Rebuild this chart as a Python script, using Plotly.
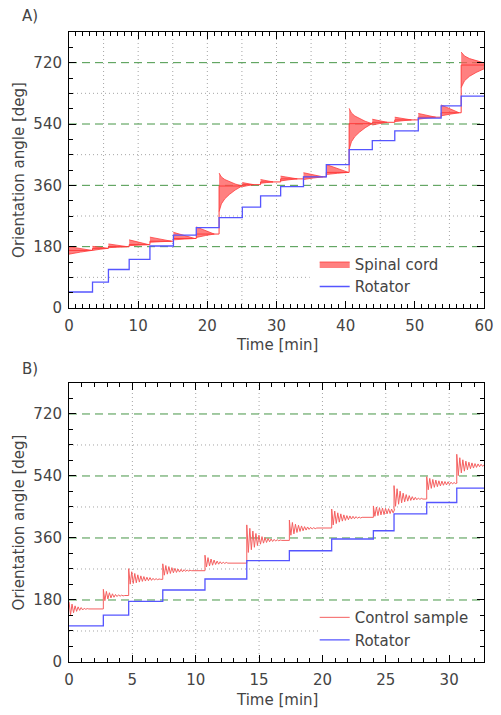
import plotly.graph_objects as go

# ---------------- Panel A data ----------------
a_rot_t = [0, 3.4, 5.7, 8.7, 11.7, 15.1, 18.4, 21.7, 25.06, 27.7, 30.6, 33.9, 37.2,
           40.5, 43.85, 47.1, 50.5, 53.8, 56.7, 60]
a_rot_v = [47, 76, 113, 143, 182, 214, 236, 265, 296, 329, 356, 385, 421,
           465, 491, 520, 557, 593, 622, 622]

a_sc_t0 = [0, 3.4, 5.7, 8.7, 11.7, 15.1, 18.4, 21.7, 25.06, 27.7, 30.6, 33.9, 37.2,
           40.5, 43.85, 47.1, 50.5, 53.8, 56.7]
a_sc_end = [3.3, 5.6, 8.4, 11.5, 14.8, 18.2, 21.0, 25.0, 26.7, 29.5, 33.0, 36.7, 40.4,
            43.8, 46.0, 49.5, 53.0, 56.4, 61.5]
a_sc_up = [180, 181, 188, 200, 208, 222, 238, 396, 368, 377, 387, 397, 421,
           586, 554, 560, 571, 596, 751]
a_sc_low = [158, 169, 177, 183, 193, 200, 207, 283, 356, 366, 373, 377, 392,
            465, 537, 547, 554, 564, 647]
a_sc_settle = [169, 175, 180, 186, 196, 204, 217, 358, 362, 370, 379, 385, 398,
               541, 545, 552, 560, 573, 713]
a_sc_kind = [0, 0, 0, 0, 0, 0, 0, 1, 0, 0, 0, 0, 0, 1, 0, 0, 0, 0, 1]

# envelope profiles (fraction of wedge length -> fraction of initial spread)
wedge_frac = [0, 0.5, 1.0]
wedge_rel = [1, 0.45, 0]
burst_frac = [0, 0.1, 0.25, 0.45, 0.7, 1.0]
burst_rel = [1, 0.7, 0.5, 0.33, 0.16, 0]

# ---------------- Panel B data ----------------
b_rot_t = [0, 2.71, 4.71, 7.40, 10.73, 14.03, 17.39, 20.73, 24.02, 25.65, 28.23, 30.6, 32.75]
b_rot_v = [105, 136, 176, 209, 241, 294, 323, 357, 381, 430, 463, 505, 505]

b_cs_t0 = [0, 2.71, 4.71, 7.40, 10.73, 14.03, 17.39, 20.73, 24.02, 25.65, 28.23, 30.6]
b_cs_extrema = [
    [175, 137, 168, 143, 163, 147, 160, 150, 158, 151, 156, 153, 155, 154],
    [211, 178, 205, 183, 201, 186, 198, 188, 196, 190, 195, 191, 194, 192, 193],
    [271, 226, 262, 228, 257, 230, 253, 232, 250, 234, 248, 235, 246, 236, 245, 237,
     243, 238, 242, 239, 241, 240],
    [285, 252, 280, 255, 277, 257, 274, 259, 272, 260, 270, 261, 269, 262, 268, 263,
     267, 264, 266, 265],
    [310, 276, 303, 279, 299, 281, 296, 283, 293, 284, 291, 285, 290, 286, 289, 287],
    [398, 318, 388, 326, 380, 333, 373, 338, 368, 342, 364, 345, 361, 347, 359, 349,
     357, 350, 356, 351, 355, 352, 354, 353],
    [412, 368, 405, 372, 400, 376, 397, 379, 395, 381, 393, 383, 392, 385, 391, 386,
     390, 387, 389],
    [444, 398, 438, 402, 433, 406, 430, 409, 427, 411, 425, 413, 424, 415, 423, 416,
     422, 417, 421, 418, 420],
    [453, 423, 450, 425, 448, 427, 447, 428, 446, 430, 445, 431, 444, 433, 443],
    [512, 452, 503, 458, 496, 462, 490, 465, 486, 467, 483, 469, 480, 470, 478, 471,
     476, 472, 475, 473],
    [538, 500, 533, 504, 530, 507, 528, 509, 526, 511, 525, 513, 524, 514, 523, 515,
     522, 517, 521, 518, 520],
    [603, 541, 593, 549, 587, 554, 583, 558, 580, 561, 578, 563, 576, 565, 575, 567,
     574, 568, 573, 569, 572],
]
b_half_period = 0.12
b_t_end = 32.75

# ---------------- styles ----------------
FONT = "DejaVu Sans"
FS = 15
TXT = "#444444"
RED_A = "rgb(255,60,60)"
RED_B = "rgb(245,95,95)"
BLUE = "rgb(85,85,255)"
GREEN = "rgb(70,150,70)"
GRID = "rgb(165,165,165)"

fig = go.Figure()

# ---- Panel A: spinal cord envelopes (dense oscillation) ----
px, py = [], []
for i in range(len(a_sc_t0)):
    t0, te = a_sc_t0[i], a_sc_end[i]
    s, up, lo = a_sc_settle[i], a_sc_up[i], a_sc_low[i]
    fr, rl = (burst_frac, burst_rel) if a_sc_kind[i] else (wedge_frac, wedge_rel)
    for f, r in zip(fr, rl):
        px.append(t0 + f * (te - t0)); py.append(s + (up - s) * r)
    for f, r in zip(fr[::-1], rl[::-1]):
        px.append(t0 + f * (te - t0)); py.append(s - (s - lo) * r)
    px.append(None); py.append(None)
fig.add_trace(go.Scatter(x=px, y=py, mode="lines", fill="toself",
                         fillcolor="rgba(255,85,85,0.75)",
                         line=dict(color=RED_A, width=0.8),
                         name="Spinal cord", legend="legend", xaxis="x", yaxis="y"))
# settled level line
fig.add_trace(go.Scatter(x=a_sc_t0 + [60], y=a_sc_settle + [a_sc_settle[-1]],
                         mode="lines", line=dict(color=RED_A, width=1, shape="hv"),
                         showlegend=False, xaxis="x", yaxis="y"))
fig.add_trace(go.Scatter(x=a_rot_t, y=a_rot_v, mode="lines",
                         line=dict(color=BLUE, width=1.3, shape="hv"),
                         name="Rotator", legend="legend", xaxis="x", yaxis="y"))

# ---- Panel B: control sample ----
bx, by = [], []
for i, t0 in enumerate(b_cs_t0):
    ext = b_cs_extrema[i]
    if i > 0:
        bx.append(t0); by.append(b_cs_extrema[i - 1][-1])
    for k, v in enumerate(ext):
        bx.append(t0 + k * b_half_period); by.append(v)
bx.append(b_t_end); by.append(b_cs_extrema[-1][-1])
fig.add_trace(go.Scatter(x=bx, y=by, mode="lines", line=dict(color=RED_B, width=1),
                         name="Control sample", legend="legend2", xaxis="x2", yaxis="y2"))
fig.add_trace(go.Scatter(x=b_rot_t, y=b_rot_v, mode="lines",
                         line=dict(color=BLUE, width=1.3, shape="hv"),
                         name="Rotator", legend="legend2", xaxis="x2", yaxis="y2"))

# ---- grid shapes (all in data coordinates of each subplot) ----
Y_MAX = 810
panels = [("x", "y", 60, range(5, 60, 5), 34.8),
          ("x2", "y2", 32.75, range(5, 33, 5), 19.85)]
shapes = []
for xr, yr, xmax, vgrid, leg_x0 in panels:
    for x in vgrid:
        shapes.append(dict(type="line", xref=xr, yref=yr, x0=x, x1=x, y0=0, y1=Y_MAX,
                           line=dict(color=GRID, width=1, dash="1px,3px"), layer="below"))
    for y in (90, 270, 450, 630):
        shapes.append(dict(type="line", xref=xr, yref=yr, x0=0, x1=xmax, y0=y, y1=y,
                           line=dict(color=GRID, width=1, dash="1px,3px"), layer="below"))
    # white patch behind the legend
    shapes.append(dict(type="rect", xref=xr, yref=yr, x0=leg_x0, x1=xmax, y0=0, y1=178,
                       fillcolor="white", line=dict(width=0), layer="below"))
    for y in (180, 360, 540, 720):
        shapes.append(dict(type="line", xref=xr, yref=yr, x0=0, x1=xmax, y0=y, y1=y,
                           line=dict(color=GREEN, width=1, dash="8px,5px"), layer="below"))

tfont = dict(family=FONT, size=FS, color=TXT)
axis_common = dict(showline=True, linecolor="black", linewidth=1, mirror="ticks",
                   ticks="inside", ticklen=7, tickcolor="black", showgrid=False,
                   zeroline=False, tickfont=tfont, automargin=False)
fig.update_layout(
    width=501, height=715,
    margin=dict(l=69, r=17, t=32, b=53, autoexpand=False),
    paper_bgcolor="white", plot_bgcolor="white",
    font=tfont,
    shapes=shapes,
    xaxis=dict(axis_common, domain=[0, 1], anchor="y", range=[0, 60], tick0=0, dtick=10,
               minor=dict(dtick=1, ticks="inside", ticklen=4, tickcolor="black"),
               ticklabelstandoff=4),
    yaxis=dict(axis_common, domain=[0.5619, 1], anchor="x", range=[0, Y_MAX], tick0=0, dtick=180,
               minor=dict(dtick=45, ticks="inside", ticklen=4, tickcolor="black"),
               ticklabelstandoff=3,
               title=dict(text="Orientation angle [deg]", standoff=5, font=tfont)),
    xaxis2=dict(axis_common, domain=[0, 1], anchor="y2", range=[0, 32.75], tick0=0, dtick=5,
                minor=dict(dtick=1, ticks="inside", ticklen=4, tickcolor="black"),
                ticklabelstandoff=4),
    yaxis2=dict(axis_common, domain=[0, 0.4429], anchor="x2", range=[0, Y_MAX], tick0=0, dtick=180,
                minor=dict(dtick=45, ticks="inside", ticklen=4, tickcolor="black"),
                ticklabelstandoff=3,
                title=dict(text="Orientation angle [deg]", standoff=5, font=tfont)),
    legend=dict(x=0.592, y=0.6575, xanchor="left", yanchor="top", bgcolor="rgba(0,0,0,0)",
                font=tfont, tracegroupgap=0),
    legend2=dict(x=0.592, y=0.0967, xanchor="left", yanchor="top", bgcolor="rgba(0,0,0,0)",
                 font=tfont, tracegroupgap=0),
    annotations=[
        dict(text="A)", xref="paper", yref="paper", x=-0.118, y=1.025, xanchor="left",
             yanchor="middle", showarrow=False, font=tfont),
        dict(text="B)", xref="paper", yref="paper", x=-0.118, y=0.465, xanchor="left",
             yanchor="middle", showarrow=False, font=tfont),
        dict(text="Time [min]", xref="paper", yref="paper", x=0.5, y=(662 - 345) / 630,
             xanchor="center", yanchor="middle", showarrow=False, font=tfont),
        dict(text="Time [min]", xref="paper", yref="paper", x=0.5, y=(662 - 700) / 630,
             xanchor="center", yanchor="middle", showarrow=False, font=tfont),
    ],
)

fig.write_html("out.html", config={"displayModeBar": False},
               post_script="document.body.style.margin='0';")
